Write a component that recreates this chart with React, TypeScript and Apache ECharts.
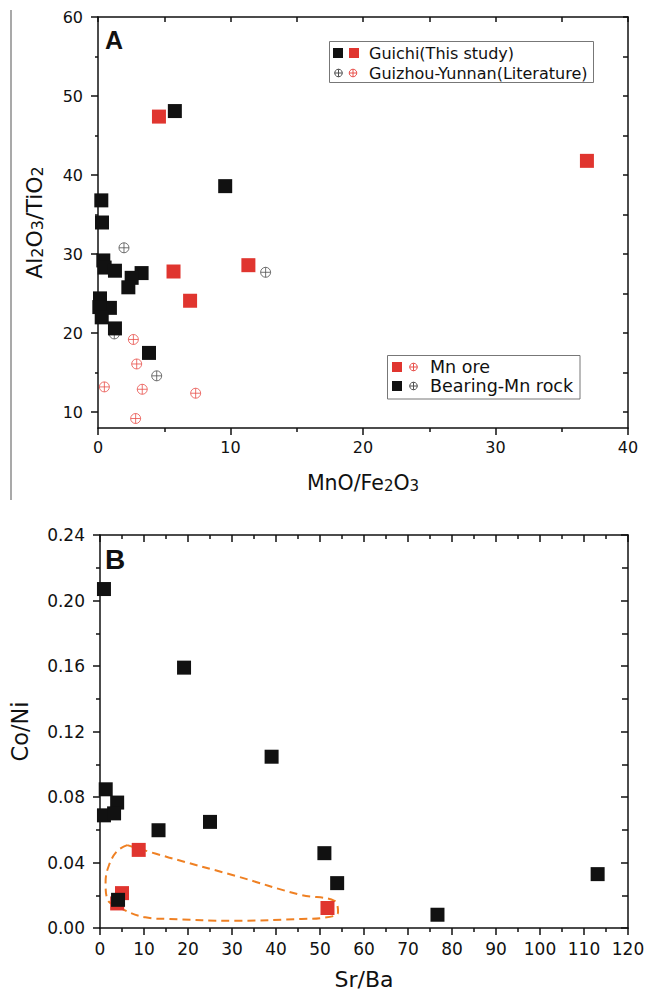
import React, { useEffect, useRef } from 'react';
import * as echarts from 'echarts';

const FONT = 'DejaVu Sans';

// ---- Chart A: MnO/Fe2O3 vs Al2O3/TiO2 ----
const aYLabelValues = [10, 20, 30, 40, 50, 60];
const aYAllTicks = [10, 15, 20, 25, 30, 35, 40, 45, 50, 55, 60];
const aYMinorTicks = [15, 25, 35, 45, 55];

const aGuichiOre = [
  [4.6, 47.4], [36.9, 41.8], [5.7, 27.8], [6.95, 24.1], [11.35, 28.6],
];
const aGuichiRock = [
  [5.8, 48.1], [9.6, 38.6], [0.25, 36.8], [0.3, 34.0], [0.4, 29.2], [0.5, 28.3],
  [1.28, 27.9], [3.29, 27.6], [2.54, 27.0], [2.29, 25.8], [0.15, 24.4], [0.9, 23.2],
  [0.1, 23.3], [0.28, 22.0], [1.28, 20.6], [3.85, 17.5],
];
const aLitOre = [
  [2.67, 19.2], [2.92, 16.1], [0.48, 13.2], [3.34, 12.9], [7.37, 12.4], [2.84, 9.2],
];
const aLitRock = [
  [1.96, 30.8], [12.65, 27.7], [1.23, 19.9], [4.43, 14.6],
];

// ---- Chart B: Sr/Ba vs Co/Ni ----
const bGuichiOre = [
  [8.8, 0.0477], [5.0, 0.0213], [3.9, 0.015], [51.7, 0.0122],
];
const bGuichiRock = [
  [0.9, 0.207], [19.1, 0.159], [39.0, 0.1046], [1.3, 0.0847], [3.9, 0.0766],
  [0.9, 0.0688], [3.2, 0.07], [13.3, 0.0597], [25.0, 0.0648], [51.0, 0.0457],
  [53.9, 0.0274], [76.7, 0.0081], [113.1, 0.0329], [4.1, 0.0172],
];
const bOreField = [
  [6.2, 0.0506], [15.6, 0.0431], [30.7, 0.0319], [45.8, 0.0201], [53.3, 0.0166],
  [54.1, 0.0096], [50.3, 0.0061], [45.8, 0.0055], [30.7, 0.0044], [15.6, 0.0055],
  [10.3, 0.0065], [4.3, 0.0126], [1.65, 0.0177], [1.27, 0.0278], [2.0, 0.038],
  [3.9, 0.047], [6.2, 0.0506],
];

const RED = '#e0352f';
const BLACK = '#111111';
const GREY_PLUS = '#505050';
const RED_PLUS = '#e8504b';
const ORANGE = '#ef8023';
const crossCircle =
  'path://M0,10A10,10,0,1,1,20,10A10,10,0,1,1,0,10Z M10,0L10,20 M0,10L20,10';

export default function App() {
  const ref = useRef<HTMLDivElement>(null);

  useEffect(() => {
    const chart = echarts.init(ref.current!, null, { renderer: 'svg' });
    const axisLine = { show: true, onZero: false, lineStyle: { color: BLACK, width: 1.5 } };
    const tickStyle = { color: BLACK, width: 1.5 };
    const labelStyle = (size: number) => ({ color: BLACK, fontFamily: FONT, fontSize: size });

    const plusCircle = (cx: number, cy: number, color: string) => [
      { type: 'circle', z: 101, shape: { cx, cy, r: 3.8 }, style: { fill: 'none', stroke: color, lineWidth: 1 } },
      { type: 'line', z: 101, shape: { x1: cx - 3.8, y1: cy, x2: cx + 3.8, y2: cy }, style: { stroke: color, lineWidth: 1 } },
      { type: 'line', z: 101, shape: { x1: cx, y1: cy - 3.8, x2: cx, y2: cy + 3.8 }, style: { stroke: color, lineWidth: 1 } },
    ];
    const legendText = (x: number, y: number, text: string, size: number) => ({
      type: 'text', x, y, z: 101,
      style: { text, fill: BLACK, fontFamily: FONT, fontSize: size, verticalAlign: 'middle', align: 'left' },
    });
    const square = (x: number, y: number, color: string) => ({
      type: 'rect', z: 101, shape: { x, y, width: 10, height: 10 }, style: { fill: color },
    });

    const option: any = {
      animation: false,
      backgroundColor: '#ffffff',
      grid: [
        { left: 98, top: 17, width: 530, height: 411 },
        { left: 98, top: 535, width: 530, height: 394 },
        { left: 98, top: 17, width: 530, height: 411 },
      ],
      xAxis: [
        {
          type: 'value', gridIndex: 0, position: 'bottom', min: 0, max: 40, interval: 10,
          axisLine, splitLine: { show: false },
          axisTick: { show: true, inside: false, length: 7, lineStyle: tickStyle },
          minorTick: { show: true, splitNumber: 2, length: 4, lineStyle: tickStyle },
          axisLabel: { ...labelStyle(16), margin: 11 },
          name: 'MnO/Fe{s|2}O{s|3}', nameLocation: 'middle', nameGap: 44,
          nameTextStyle: {
            color: BLACK, fontFamily: FONT, fontSize: 20.5,
            rich: { s: { fontFamily: FONT, fontSize: 15, color: BLACK, verticalAlign: 'bottom' } },
          },
        },
        {
          type: 'value', gridIndex: 0, position: 'top', min: 0, max: 40, interval: 10,
          axisLine, splitLine: { show: false },
          axisTick: { show: true, inside: true, length: 5, lineStyle: tickStyle },
          minorTick: { show: true, splitNumber: 2, length: 5, lineStyle: tickStyle },
          axisLabel: { show: false },
        },
        {
          type: 'value', gridIndex: 1, position: 'bottom', min: 0, max: 120, interval: 10,
          axisLine, splitLine: { show: false },
          axisTick: { show: true, inside: false, length: 7, lineStyle: tickStyle },
          minorTick: { show: true, splitNumber: 2, length: 4, lineStyle: tickStyle },
          axisLabel: { ...labelStyle(17), margin: 12 },
          name: 'Sr/Ba', nameLocation: 'middle', nameGap: 40,
          nameTextStyle: { color: BLACK, fontFamily: FONT, fontSize: 22 },
        },
        {
          type: 'value', gridIndex: 1, position: 'top', min: 0, max: 120, interval: 10,
          axisLine, splitLine: { show: false },
          axisTick: { show: true, inside: true, length: 7, lineStyle: tickStyle },
          minorTick: { show: true, splitNumber: 2, length: 4, lineStyle: tickStyle },
          axisLabel: { show: false },
        },
        {
          type: 'value', gridIndex: 2, min: 0, max: 40, show: false,
        },
      ],
      yAxis: [
        {
          type: 'value', gridIndex: 0, position: 'left', min: 8, max: 60,
          axisLine, splitLine: { show: false },
          axisTick: { show: true, inside: false, length: 7, lineStyle: tickStyle, customValues: aYLabelValues },
          axisLabel: { ...labelStyle(16), margin: 15, customValues: aYLabelValues },
          name: '{a|Al}{s|2}{a|O}{s|3}{a|/TiO}{s|2}', nameLocation: 'middle', nameGap: 53,
          nameTextStyle: {
            color: BLACK, fontFamily: FONT, fontSize: 22,
            rich: {
              a: { fontFamily: FONT, fontSize: 22, color: BLACK },
              s: { fontFamily: FONT, fontSize: 16, color: BLACK, verticalAlign: 'bottom' },
            },
          },
        },
        {
          type: 'value', gridIndex: 0, position: 'right', min: 8, max: 60,
          axisLine, splitLine: { show: false },
          axisTick: { show: true, inside: true, length: 5, lineStyle: tickStyle, customValues: aYAllTicks },
          axisLabel: { show: false },
        },
        {
          type: 'value', gridIndex: 1, position: 'left', min: 0, max: 0.24, interval: 0.04,
          axisLine, splitLine: { show: false },
          axisTick: { show: true, inside: false, length: 7, lineStyle: tickStyle },
          minorTick: { show: true, splitNumber: 2, length: 4, lineStyle: tickStyle },
          axisLabel: { ...labelStyle(17), margin: 15, formatter: (v: number) => v.toFixed(2) },
          name: 'Co/Ni', nameLocation: 'middle', nameGap: 69,
          nameTextStyle: { color: BLACK, fontFamily: FONT, fontSize: 22.5 },
        },
        {
          type: 'value', gridIndex: 1, position: 'right', min: 0, max: 0.24, interval: 0.04,
          axisLine, splitLine: { show: false },
          axisTick: { show: true, inside: true, length: 7, lineStyle: tickStyle },
          minorTick: { show: true, splitNumber: 2, length: 6, lineStyle: tickStyle },
          axisLabel: { show: false },
        },
        {
          type: 'value', gridIndex: 2, position: 'left', min: 8, max: 60,
          axisLine: { show: false }, splitLine: { show: false },
          axisTick: { show: true, inside: false, length: 3, lineStyle: tickStyle, customValues: aYMinorTicks },
          axisLabel: { show: false },
        },
      ],
      series: [
        {
          type: 'scatter', name: 'A lit rock', xAxisIndex: 0, yAxisIndex: 0, data: aLitRock,
          symbol: crossCircle, symbolSize: 10,
          itemStyle: { color: 'rgba(0,0,0,0)', borderColor: GREY_PLUS, borderWidth: 1 },
        },
        {
          type: 'scatter', name: 'A lit ore', xAxisIndex: 0, yAxisIndex: 0, data: aLitOre,
          symbol: crossCircle, symbolSize: 10,
          itemStyle: { color: 'rgba(0,0,0,0)', borderColor: RED_PLUS, borderWidth: 1 },
        },
        {
          type: 'scatter', name: 'A ore', xAxisIndex: 0, yAxisIndex: 0, data: aGuichiOre,
          symbol: 'rect', symbolSize: 14, itemStyle: { color: RED, opacity: 1 },
        },
        {
          type: 'scatter', name: 'A rock', xAxisIndex: 0, yAxisIndex: 0, data: aGuichiRock,
          symbol: 'rect', symbolSize: 14, itemStyle: { color: BLACK, opacity: 1 },
        },
        {
          type: 'line', name: 'B field', xAxisIndex: 2, yAxisIndex: 2, data: bOreField,
          smooth: 0.4, showSymbol: false, symbol: 'none', z: 1,
          lineStyle: { color: ORANGE, width: 2, type: [8, 5] },
        },
        {
          type: 'scatter', name: 'B ore', xAxisIndex: 2, yAxisIndex: 2, data: bGuichiOre,
          symbol: 'rect', symbolSize: 14, itemStyle: { color: RED, opacity: 1 }, z: 3,
        },
        {
          type: 'scatter', name: 'B rock', xAxisIndex: 2, yAxisIndex: 2, data: bGuichiRock,
          symbol: 'rect', symbolSize: 14, itemStyle: { color: BLACK, opacity: 1 }, z: 4,
        },
      ],
      graphic: [
        { type: 'line', shape: { x1: 11, y1: 10, x2: 11, y2: 500 }, style: { stroke: '#8c8c8c', lineWidth: 1.5 } },
        {
          type: 'text', x: 105, y: 40, z: 100,
          style: { text: 'A', fill: BLACK, fontFamily: 'Liberation Sans', fontWeight: 'bold', fontSize: 25, verticalAlign: 'middle' },
        },
        {
          type: 'text', x: 105, y: 559, z: 100,
          style: { text: 'B', fill: BLACK, fontFamily: 'Liberation Sans', fontWeight: 'bold', fontSize: 28, verticalAlign: 'middle' },
        },
        // legend 1
        { type: 'rect', z: 99, shape: { x: 329.5, y: 41.5, width: 264, height: 41 }, style: { fill: '#fff', stroke: '#777', lineWidth: 1 } },
        square(333, 48, BLACK),
        square(349, 48, RED),
        legendText(369, 53, 'Guichi(This study)', 16),
        ...plusCircle(338.5, 73, GREY_PLUS),
        ...plusCircle(353, 73, RED_PLUS),
        legendText(369, 73, 'Guizhou-Yunnan(Literature)', 16),
        // legend 2
        { type: 'rect', z: 99, shape: { x: 387.5, y: 355.5, width: 192.5, height: 43.5 }, style: { fill: '#fff', stroke: '#777', lineWidth: 1 } },
        square(392, 362, RED),
        ...plusCircle(413.5, 367, RED_PLUS),
        legendText(430, 367, 'Mn ore', 17.5),
        square(392, 381, BLACK),
        ...plusCircle(413.5, 386, GREY_PLUS),
        legendText(430, 386, 'Bearing-Mn rock', 17.5),
      ],
    };
    chart.setOption(option);
    return () => chart.dispose();
  }, []);

  return (
    <div
      ref={ref}
      style={{ position: 'absolute', left: 0, top: 0, width: 648, height: 991, background: '#fff' }}
    />
  );
}
